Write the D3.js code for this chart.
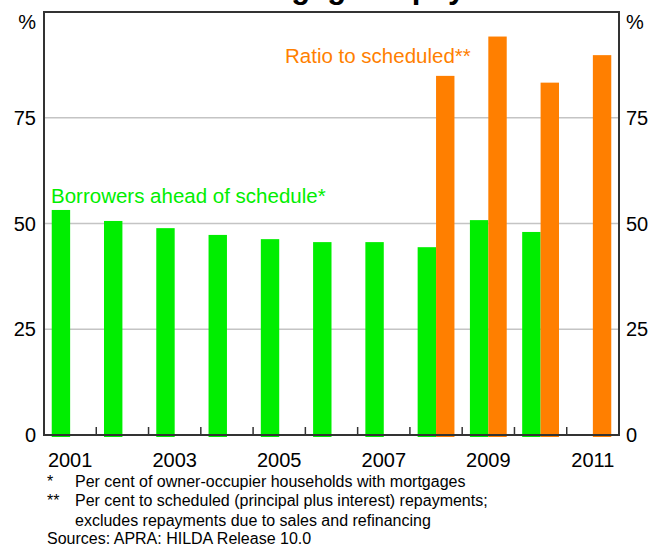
<!DOCTYPE html>
<html>
<head>
<meta charset="utf-8">
<script src="https://cdn.jsdelivr.net/npm/d3@7"></script>
<style>
  body { margin: 0; background: #fff; }
  svg { display: block; font-family: "Liberation Sans", Arial, sans-serif; }
</style>
</head>
<body>
<svg id="chart" width="651" height="546"></svg>
<script>
var years = [2001, 2002, 2003, 2004, 2005, 2006, 2007, 2008, 2009, 2010, 2011];
var yearLabels = [2001, 2003, 2005, 2007, 2009, 2011];
// borrowers ahead of schedule, per cent of owner-occupier households
var ahead = [53.2, 50.6, 48.9, 47.3, 46.3, 45.6, 45.6, 44.4, 50.8, 48.0, null];
// ratio to scheduled repayments, per cent
var ratio = [null, null, null, null, null, null, null, 84.9, 94.2, 83.3, 89.8];
var yTicks = [0, 25, 50, 75];
var notes = [
    ["*", "Per cent of owner-occupier households with mortgages"],
    ["**", "Per cent to scheduled (principal plus interest) repayments;"],
    ["", "excludes repayments due to sales and refinancing"]
];

var green = "#00ee00", orange = "#ff7f00";
var svg = d3.select("#chart");
var pLeft = 44, pRight = 619, pTop = 12, pBottom = 435;

var x = d3.scaleBand().domain(years).range([pLeft, pRight]);
var inner = d3.scaleBand().domain(["ahead", "ratio"])
    .range([0, x.bandwidth()]).paddingOuter(0.42);
var y = d3.scaleLinear().domain([0, 100]).range([pBottom, pTop]);

// title, mostly cut off at the top
svg.append("text")
    .attr("x", 224).attr("y", -2)
    .attr("font-size", 31).attr("font-weight", "bold")
    .text("Mortgage Repayments");

// gridlines
svg.selectAll(".grid")
    .data(yTicks.slice(1))
    .enter().append("line")
    .attr("x1", pLeft).attr("x2", pRight)
    .attr("y1", function(d) { return y(d); })
    .attr("y2", function(d) { return y(d); })
    .attr("stroke", "#c4c4c4").attr("stroke-width", 1.5);

function bars(values, key, color) {
    svg.append("g").selectAll("rect")
        .data(years.map(function(yr, i) { return {year: yr, v: values[i]}; })
              .filter(function(d) { return d.v != null; }))
        .enter().append("rect")
        .attr("x", function(d) { return x(d.year) + inner(key); })
        .attr("width", inner.bandwidth())
        .attr("y", function(d) { return y(d.v); })
        .attr("height", function(d) { return y(0) - y(d.v) + 2; })
        .attr("fill", color);
}
bars(ahead, "ahead", green);
bars(ratio, "ratio", orange);

// frame
svg.append("path")
    .attr("d", "M" + pLeft + "," + pBottom + "V" + pTop + "H" + pRight + "V" + pBottom + "Z")
    .attr("fill", "none").attr("stroke", "#333").attr("stroke-width", 2);

// x ticks between years
svg.selectAll(".xtick")
    .data(years.slice(1))
    .enter().append("line")
    .attr("x1", function(d) { return x(d); })
    .attr("x2", function(d) { return x(d); })
    .attr("y1", pBottom).attr("y2", pBottom - 8)
    .attr("stroke", "#333").attr("stroke-width", 1.5);

svg.selectAll(".xlab")
    .data(yearLabels)
    .enter().append("text")
    .attr("x", function(d) { return x(d) + x.bandwidth() / 2; })
    .attr("y", 467)
    .attr("text-anchor", "middle")
    .attr("font-size", 20)
    .text(function(d) { return d; });

// y labels both sides
[[36, "end"], [626, "start"]].forEach(function(s) {
    svg.selectAll(null)
        .data(yTicks)
        .enter().append("text")
        .attr("x", s[0])
        .attr("y", function(d) { return y(d) + 7; })
        .attr("text-anchor", s[1])
        .attr("font-size", 20)
        .text(function(d) { return d; });
    svg.append("text")
        .attr("x", s[0]).attr("y", 29)
        .attr("text-anchor", s[1])
        .attr("font-size", 20)
        .text("%");
});

// series labels
svg.append("text")
    .attr("x", 51).attr("y", 203)
    .attr("font-size", 20.5).attr("fill", green)
    .text("Borrowers ahead of schedule*");
svg.append("text")
    .attr("x", 285).attr("y", 63)
    .attr("font-size", 20.5).attr("fill", orange)
    .text("Ratio to scheduled**");

// footnotes
var fn = svg.append("g").attr("font-size", 16);
notes.forEach(function(n, i) {
    fn.append("text").attr("x", 47).attr("y", 487 + i * 19.3).text(n[0]);
    fn.append("text").attr("x", 75).attr("y", 487 + i * 19.3).text(n[1]);
});
fn.append("text").attr("x", 47).attr("y", 544)
    .text("Sources: APRA: HILDA Release 10.0");
</script>
</body>
</html>
